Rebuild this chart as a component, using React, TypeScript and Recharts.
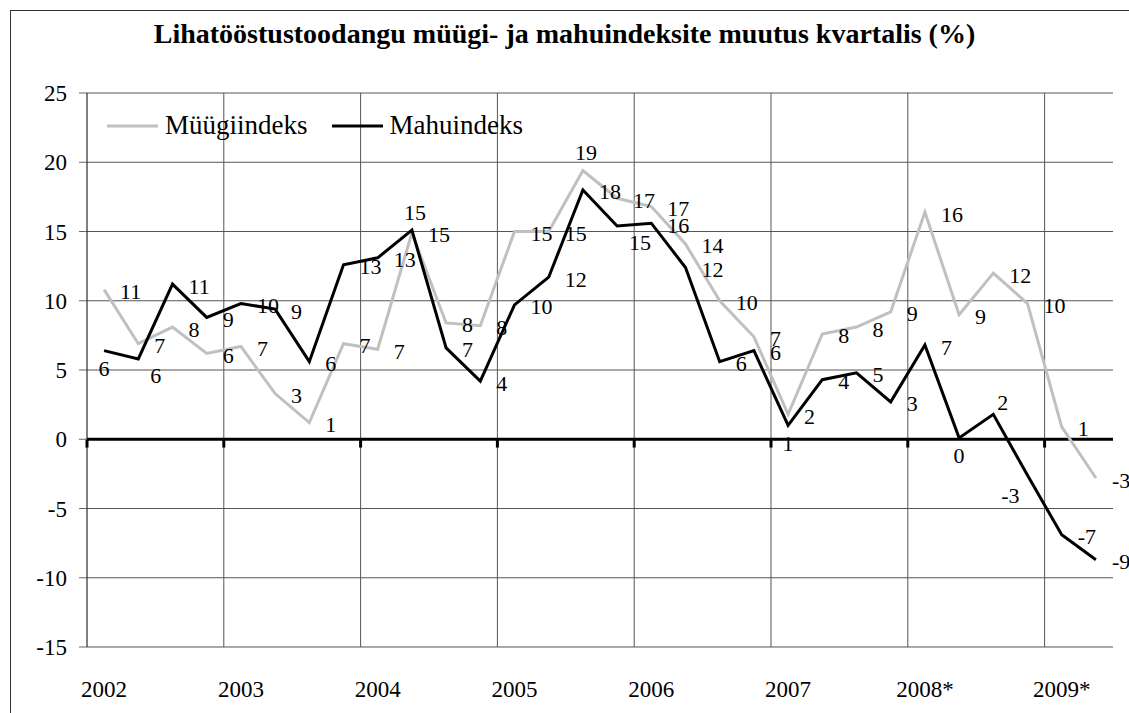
import React from 'react'
import {
  ComposedChart,
  Line,
  XAxis,
  YAxis,
  CartesianGrid,
  ReferenceLine,
  LabelList,
} from 'recharts'

const FONT = 'Liberation Serif, serif'

// categories
const years = ['2002', '2003', '2004', '2005', '2006', '2007', '2008*', '2009*']
const quarterNames = ['I', 'II', 'III', 'IV']
const quarters = years.flatMap((y) => quarterNames.map((q) => `${y} ${q}`)).slice(0, 30)
const yearTicks = quarters.filter((q) => q.endsWith(' I'))

// series (% change)
const muugiindeks = [
  10.8, 6.9, 8.1, 6.2, 6.7, 3.3, 1.2, 6.9, 6.5, 14.9, 8.4, 8.2, 15.0, 15.0, 19.4,
  17.4, 16.8, 14.1, 10.0, 7.4, 1.8, 7.6, 8.1, 9.2, 16.4, 9.0, 12.0, 9.8, 0.9, -2.8,
]
const mahuindeks = [
  6.4, 5.8, 11.2, 8.8, 9.8, 9.4, 5.6, 12.6, 13.1, 15.1, 6.6, 4.2, 9.7, 11.7, 18.0,
  15.4, 15.6, 12.4, 5.6, 6.4, 1.0, 4.3, 4.8, 2.7, 6.8, 0.1, 1.8, -2.6, -6.9, -8.7,
]

const yTicks = [-15, -10, -5, 0, 5, 10, 15, 20, 25]

const data = quarters.map((q, i) => ({ q, muug: muugiindeks[i], mahu: mahuindeks[i] }))

// where a data label sits relative to its point (default: right)
type Place = 'right' | 'below' | 'above' | 'left' | 'belowright' | 'aboveright'
const grayPlace: Record<number, Place> = { 14: 'above' }
const blackPlace: Record<number, Place> = {
  0: 'below', 1: 'belowright', 9: 'above', 15: 'belowright', 20: 'below',
  25: 'below', 26: 'aboveright', 27: 'left',
}

const placeStyle: Record<Place, { dx: number; dy: number; anchor: 'start' | 'middle' | 'end' }> = {
  right: { dx: 16, dy: 2, anchor: 'start' },
  below: { dx: 0, dy: 18, anchor: 'middle' },
  above: { dx: 3, dy: -18, anchor: 'middle' },
  left: { dx: -8, dy: 20, anchor: 'end' },
  belowright: { dx: 12, dy: 17, anchor: 'start' },
  aboveright: { dx: 4, dy: -12, anchor: 'start' },
}

const tickStyle = { fontSize: 23, fill: '#000', fontFamily: FONT, style: { fontFamily: FONT } }

function makeLabel(places: Record<number, Place>) {
  return (props: any) => {
    const { x, y, value, index } = props
    if (value == null) return null
    const s = placeStyle[places[index] ?? 'right']
    return (
      <text
        x={x + s.dx}
        y={y + s.dy}
        textAnchor={s.anchor}
        dominantBaseline="central"
        style={{ fontFamily: FONT, fontSize: 22 }}
        fill="#000"
      >
        {Math.round(value)}
      </text>
    )
  }
}

function LegendBox() {
  const item = (color: string, label: string, gap: number) => (
    <div style={{ display: 'flex', alignItems: 'center', marginLeft: gap }}>
      <svg width={51} height={6} style={{ marginRight: 7 }}>
        <line x1={0} y1={3} x2={51} y2={3} stroke={color} strokeWidth={3} />
      </svg>
      <span style={{ fontFamily: FONT, fontSize: 27, color: '#000' }}>{label}</span>
    </div>
  )
  return (
    <div
      style={{
        position: 'absolute', left: 107, top: 110, display: 'flex', alignItems: 'center',
      }}
    >
      {item('#c0c0c0', 'Müügiindeks', 0)}
      {item('#000', 'Mahuindeks', 24)}
    </div>
  )
}

export default function App() {
  return (
    <div
      style={{
        position: 'absolute', left: 0, top: 0, width: 1129, height: 713,
        overflow: 'hidden', background: '#fff', fontFamily: FONT,
      }}
    >
      <div
        style={{
          position: 'absolute', left: 10, top: 10, width: 1140, height: 720,
          border: '1px solid #333',
        }}
      />
      <div
        style={{
          position: 'absolute', left: 0, top: 18, width: 1129, textAlign: 'center',
          fontFamily: FONT, fontWeight: 'bold', fontSize: 28, color: '#000',
        }}
      >
        Lihatööstustoodangu müügi- ja mahuindeksite muutus kvartalis (%)
      </div>
      <ComposedChart
        width={1129}
        height={713}
        data={data}
        margin={{ top: 93, right: 16, bottom: 0, left: 0 }}
        style={{ position: 'absolute', left: 0, top: 0, fontFamily: FONT }}
      >
        <CartesianGrid vertical={false} stroke="#555" />
        <XAxis
          dataKey="q"
          scale="band"
          ticks={yearTicks}
          interval={0}
          tickFormatter={(v: string) => v.split(' ')[0]}
          axisLine={false}
          tickLine={false}
          tickSize={0}
          tickMargin={34}
          height={66}
          tick={tickStyle}
        />
        <YAxis
          domain={[-15, 25]}
          ticks={yTicks}
          interval={0}
          width={87}
          tickSize={8}
          tickMargin={12}
          axisLine={{ stroke: '#000' }}
          tickLine={{ stroke: '#666' }}
          tick={tickStyle}
        />
        {yearTicks.slice(1).map((q) => (
          <ReferenceLine key={`g${q}`} x={q} position="start" stroke="#555" />
        ))}
        <ReferenceLine x={quarters[quarters.length - 1]} position="end" stroke="#888" />
        <ReferenceLine y={0} stroke="#000" strokeWidth={3} />
        {yearTicks.map((q) => (
          <ReferenceLine
            key={`t${q}`}
            segment={[{ x: q, y: 0 }, { x: q, y: -0.6 }]}
            position="start"
            stroke="#000"
            strokeWidth={3}
          />
        ))}
        <Line
          dataKey="muug"
          stroke="#c0c0c0"
          strokeWidth={3}
          dot={false}
          isAnimationActive={false}
        >
          <LabelList dataKey="muug" content={makeLabel(grayPlace)} />
        </Line>
        <Line
          dataKey="mahu"
          stroke="#000"
          strokeWidth={3}
          dot={false}
          isAnimationActive={false}
        >
          <LabelList dataKey="mahu" content={makeLabel(blackPlace)} />
        </Line>
      </ComposedChart>
      <LegendBox />
    </div>
  )
}
